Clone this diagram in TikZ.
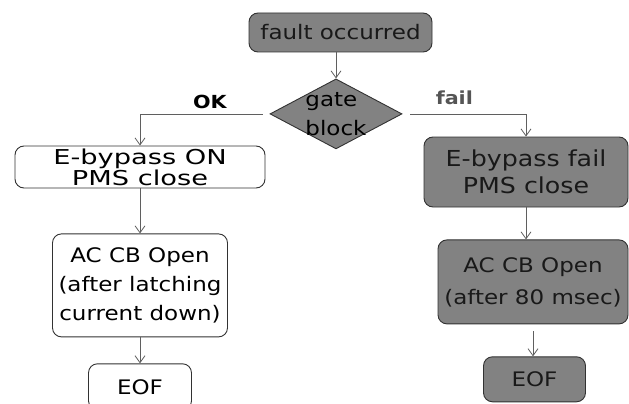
\documentclass[tikz,border=0pt]{standalone}
\usepackage{fontspec}
\setmainfont{DejaVu Sans}[FakeStretch=1.15]
\newfontfamily\widefont{DejaVu Sans}[FakeStretch=1.33]
\usetikzlibrary{shapes.geometric, arrows.meta, positioning}
\definecolor{boxGray}{RGB}{130,130,130}
\definecolor{lineGray}{RGB}{95,95,95}
\definecolor{edgeDark}{RGB}{50,50,50}
\definecolor{labelGray}{RGB}{85,85,85}

\begin{document}
\begin{tikzpicture}[x=1pt, y=-1pt,
  okbox/.style={rectangle, draw=edgeDark, fill=white, rounded corners=9pt, inner sep=0pt,
                line width=0.9pt, align=center, font=\fontsize{20}{29}\selectfont, text=black},
  failbox/.style={okbox, fill=boxGray, text=black!90},
  gatebox/.style={diamond, draw=edgeDark, fill=boxGray, inner sep=0pt, line width=0.9pt,
                  minimum width=132pt, minimum height=70pt},
  arrow/.style={-{Straight Barb[length=7pt, width=10pt]}, draw=lineGray, line width=0.8pt},
  branch/.style={font=\fontsize{18}{20}\selectfont\bfseries, inner sep=1pt},
]
  \useasboundingbox (0,0) rectangle (629,404);

  \node[failbox, minimum width=183pt, minimum height=39pt] (fault) at (340.5,32.5) {fault occurred};
  \node[gatebox, below=26pt of fault, xshift=-4.5pt] (gate) {};
  \node[font=\fontsize{20}{29}\selectfont, align=left, inner sep=0pt] (gatelbl) at (gate) {gate\\block};

  \node[okbox, minimum width=250pt, minimum height=42pt,
        font=\widefont\fontsize{20.5}{18.3}\selectfont] (ebon) at (140,167) {E-bypass ON\\PMS close};
  \node[failbox, minimum width=204pt, minimum height=70pt,
        font=\fontsize{22}{27}\selectfont] (ebfail) at (526,172) {E-bypass fail\\PMS close};

  \node[okbox, minimum width=175pt, minimum height=103pt, below=45pt of ebon] (acl)
    {AC CB Open\\(after latching\\current down)};
  \node[okbox, minimum width=103pt, minimum height=46pt, below=26pt of acl] (eofl) {EOF};

  \node[failbox, minimum width=190pt, minimum height=84pt, below=32pt of ebfail, xshift=7pt,
        font=\fontsize{20}{32}\selectfont] (acr) {AC CB Open\\(after 80 msec)};
  \node[failbox, minimum width=102pt, minimum height=45pt, below=32pt of acr, xshift=1.5pt] (eofr) {EOF};

  \draw[arrow] (fault.south -| gate.north) -- (gate.north);
  \draw[arrow, shorten <=7pt] (gate.west) -|
    node[branch, pos=0.23, above=4pt] (oklbl) {OK} (ebon.north);
  \draw[arrow, shorten <=8pt] (gate.east) -|
    node[branch, pos=0.21, above=8pt, text=labelGray] (faillbl) {fail} (ebfail.north);
  \draw[arrow] (ebon) -- (acl);
  \draw[arrow] (acl) -- (eofl);
  \draw[arrow] (ebfail.south) -- (ebfail.south |- acr.north);
  \draw[arrow, shorten <=7pt] (acr.south) -- (acr.south |- eofr.north);
\end{tikzpicture}
\end{document}
